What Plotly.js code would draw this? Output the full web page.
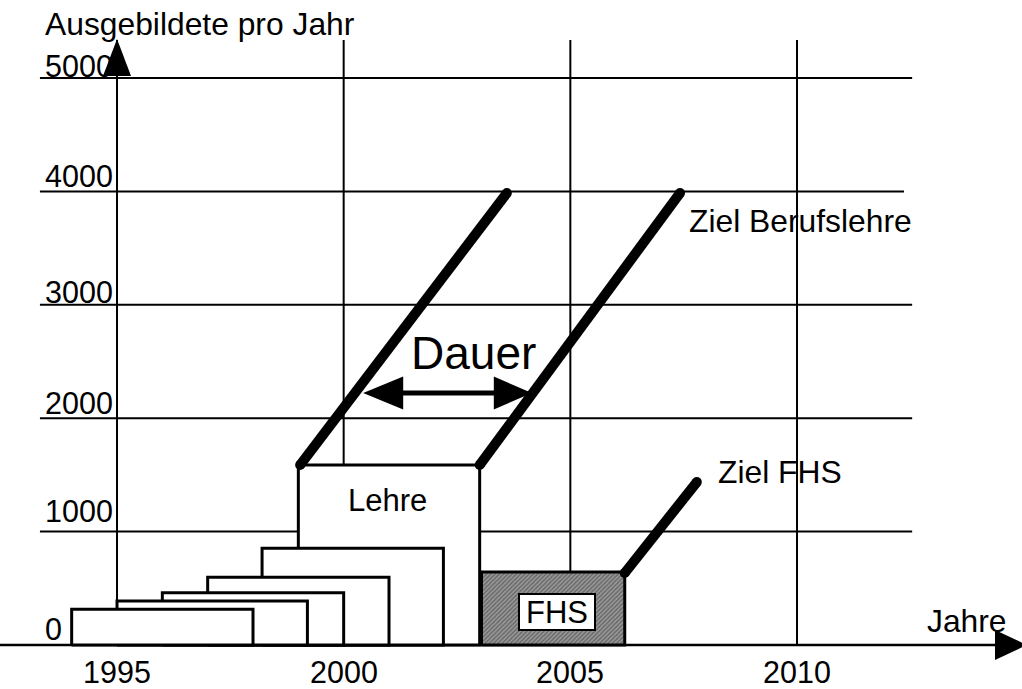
<!DOCTYPE html>
<html>
<head>
<meta charset="utf-8">
<script src="https://cdn.plot.ly/plotly-3.0.1.min.js"></script>
<style>html,body{margin:0;padding:0;background:#fff;}#chart{width:1022px;height:689px;}</style>
</head>
<body>
<div id="chart"></div>
<script>
// ---- data ----
// Lehre cohorts (drawn from the latest/largest first, so earlier ones lie on top)
var lehreStart = [1994.0, 1995.0, 1996.0, 1997.0, 1998.2, 1999.0];
var lehreEnd   = [1998.0, 1999.2, 2000.0, 2001.0, 2002.2, 2003.0];
var lehreValue = [315, 388, 461, 597, 853, 1587];
// FHS cohort
var fhsStart = 2003.04, fhsEnd = 2006.2, fhsValue = 644;
// target lines
var zielLehre1Year = [1999.04, 2003.6],  zielLehre1Value = [1587, 3986];
var zielLehre2Year = [2003.0, 2007.42],  zielLehre2Value = [1587, 3986];
var zielFhsYear    = [2006.2, 2007.79],  zielFhsValue    = [635, 1437];
// "Dauer" arrow
var dauerYear = [2000.43, 2004.15], dauerValue = 2222;
// axis ticks
var xTickYears = [1995, 2000, 2005, 2010];
var xTickLabels = ['1995', '2000', '2005', '2010'];
var yTickValues = [0, 1000, 2000, 3000, 4000, 5000];
var yTickLabels = ['0', '1000', '2000', '3000', '4000', '5000'];

// ---- styling ----
var FONT = 'Liberation Sans, Arial, sans-serif';
var yLabelShift = [16, 21, 15, 13, 15, 12];
var gridLeft = 1993.30, gridRight = [2012.54, 2012.54, 2012.54, 2012.54, 2012.36, 2012.54];
var gridTop = 5335;

var traces = [];
for (var i = lehreStart.length - 1; i >= 0; i--) {
  traces.push({
    type: 'scatter', mode: 'lines', hoverinfo: 'skip',
    x: [lehreStart[i], lehreStart[i], lehreEnd[i], lehreEnd[i], lehreStart[i]],
    y: [0, lehreValue[i], lehreValue[i], 0, 0],
    fill: 'toself', fillcolor: '#ffffff',
    line: {color: '#000', width: 3}
  });
}
traces.push({
  type: 'scatter', mode: 'lines', hoverinfo: 'skip',
  x: [fhsStart, fhsStart, fhsEnd, fhsEnd, fhsStart],
  y: [0, fhsValue, fhsValue, 0, 0],
  fill: 'toself', fillcolor: '#8a8a8a',
  fillpattern: {shape: '/', bgcolor: '#9c9c9c', fgcolor: '#686868', size: 3, solidity: 0.5},
  line: {color: '#000', width: 3}
});
[[zielLehre1Year, zielLehre1Value], [zielLehre2Year, zielLehre2Value], [zielFhsYear, zielFhsValue]].forEach(function (p) {
  traces.push({
    type: 'scatter', mode: 'lines+markers', hoverinfo: 'skip',
    x: p[0], y: p[1],
    line: {color: '#000', width: 10},
    marker: {color: '#000', size: 10, line: {width: 0}}
  });
});

var shapes = [];
// horizontal grid lines
yTickValues.forEach(function (v, k) {
  if (v === 0) return;
  shapes.push({type: 'line', layer: 'below', xref: 'x', yref: 'y', x0: gridLeft, x1: gridRight[k], y0: v, y1: v,
    line: {color: '#000', width: 2}});
});
// vertical grid lines (the 1995 one is the y axis)
xTickYears.forEach(function (yr) {
  shapes.push({type: 'line', layer: 'below', xref: 'x', yref: 'y', x0: yr, x1: yr, y0: 0, y1: gridTop,
    line: {color: '#000', width: 2}});
});
// x axis line
shapes.push({type: 'line', layer: 'below', xref: 'paper', yref: 'y', x0: 0, x1: 0.978, y0: 0, y1: 0,
  line: {color: '#000', width: 2.5}});
// y axis arrow head
shapes.push({type: 'path', xref: 'x', yref: 'y', xsizemode: 'pixel', ysizemode: 'pixel',
  xanchor: xTickYears[0], yanchor: yTickValues[yTickValues.length - 1],
  path: 'M-14,2 L14,2 L0,39 Z', fillcolor: '#000', line: {width: 0}});
// x axis arrow head
shapes.push({type: 'path', xref: 'x', yref: 'y', xsizemode: 'pixel', ysizemode: 'pixel',
  xanchor: xTickYears[xTickYears.length - 1], yanchor: 0,
  path: 'M198,15 L198,-15 L230,0 Z', fillcolor: '#000', line: {width: 0}});
// Dauer arrow
shapes.push({type: 'line', xref: 'x', yref: 'y', x0: dauerYear[0] + 0.5, x1: dauerYear[1] - 0.5,
  y0: dauerValue, y1: dauerValue, line: {color: '#000', width: 5}});
shapes.push({type: 'path', xref: 'x', yref: 'y', xsizemode: 'pixel', ysizemode: 'pixel',
  xanchor: dauerYear[0], yanchor: dauerValue,
  path: 'M0,0 L40,16.5 L40,-16.5 Z', fillcolor: '#000', line: {width: 0}});
shapes.push({type: 'path', xref: 'x', yref: 'y', xsizemode: 'pixel', ysizemode: 'pixel',
  xanchor: dauerYear[1], yanchor: dauerValue,
  path: 'M0,0 L-38,16.5 L-38,-16.5 Z', fillcolor: '#000', line: {width: 0}});

var ann = [];
function txt(o) {
  var a = {xref: 'x', yref: 'y', showarrow: false, borderpad: 0,
    font: {family: FONT, size: 31.8, color: '#000'}};
  for (var k in o) a[k] = o[k];
  ann.push(a);
}
xTickYears.forEach(function (yr, k) {
  txt({x: yr, y: -238, text: xTickLabels[k], xanchor: 'center', yanchor: 'middle',
    font: {family: FONT, size: 30.5, color: '#000'}});
});
yTickValues.forEach(function (v, k) {
  txt({x: 1993.40, y: v, yshift: yLabelShift[k], text: yTickLabels[k], xanchor: 'left', yanchor: 'middle',
    font: {family: FONT, size: 30.5, color: '#000'}});
});
txt({x: 1993.40, y: 5476, text: 'Ausgebildete pro Jahr', xanchor: 'left', yanchor: 'middle'});
txt({x: 2013.76, y: 212, text: 'Jahre', xanchor: 'center', yanchor: 'middle'});
txt({x: 2002.86, y: 2571, text: 'Dauer', xanchor: 'center', yanchor: 'middle',
  font: {family: FONT, size: 46, color: '#000'}});
txt({x: 2007.60, y: 3739, text: 'Ziel Berufslehre', xanchor: 'left', yanchor: 'middle'});
txt({x: 2008.24, y: 1530, text: 'Ziel FHS', xanchor: 'left', yanchor: 'middle'});
txt({x: 2000.97, y: 1270, text: 'Lehre', xanchor: 'center', yanchor: 'middle', font: {family: FONT, size: 31, color: '#000'}});
txt({x: 2004.71, y: 291, text: 'FHS', xanchor: 'center', yanchor: 'middle',
  bgcolor: '#ffffff', bordercolor: '#000', borderwidth: 2, width: 74, height: 34,
  font: {family: FONT, size: 31, color: '#000'}});

var layout = {
  width: 1022, height: 689,
  margin: {l: 0, r: 0, t: 0, b: 0, pad: 0},
  paper_bgcolor: '#fff', plot_bgcolor: '#fff',
  showlegend: false,
  xaxis: {range: [1992.419, 2014.963], visible: false, fixedrange: true},
  yaxis: {range: [-388, 5688], visible: false, fixedrange: true},
  shapes: shapes,
  annotations: ann
};
Plotly.newPlot('chart', traces, layout, {displayModeBar: false, staticPlot: true});
</script>
</body>
</html>
